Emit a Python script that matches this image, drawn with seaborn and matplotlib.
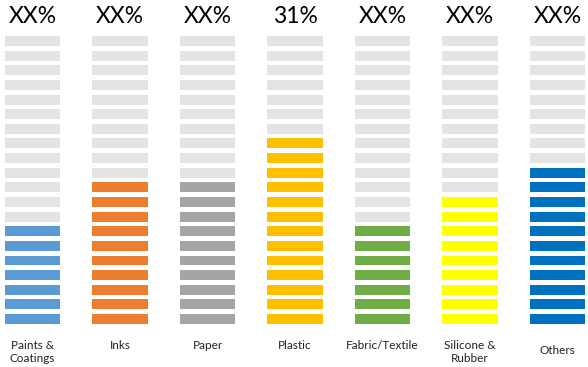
import matplotlib
matplotlib.use('Agg')
import matplotlib.pyplot as plt
import pandas as pd
import seaborn as sns

# data
categories = ['Paints &\nCoatings', 'Inks', 'Paper', 'Plastic', 'Fabric/Textile', 'Silicone &\nRubber', 'Others']
filled = [7, 10, 10, 13, 7, 9, 11]          # coloured stripes out of 20
total = [20, 20, 20, 20, 20, 20, 20]
pct_labels = ['XX%', 'XX%', 'XX%', '31%', 'XX%', 'XX%', 'XX%']
colors = ['#5B9BD5', '#ED7D31', '#A5A5A5', '#FFC000', '#70AD47', '#FFFF00', '#0070C0']

sns.set_theme(style='white')
plt.rcParams['font.family'] = ['Lato', 'DejaVu Sans']

df = pd.DataFrame({'cat': categories, 'filled': filled, 'total': total})

fig = plt.figure(figsize=(5.88, 3.67), dpi=100)
ax = fig.add_axes([0, 43 / 367, 1, 292.6 / 367])

# grey background stripes, then the coloured part
sns.barplot(data=df, x='cat', y='total', color='#E4E4E4', saturation=1, width=0.63, ax=ax)
sns.barplot(data=df, x='cat', y='filled', hue='cat', palette=colors, legend=False,
            saturation=1, width=0.63, ax=ax)
for p in ax.patches:
    p.set_linewidth(0)

# cut the bars into stripes
for k in range(1, 21):
    ax.axhspan(k - 0.32, k, color='white', lw=0, zorder=5)

ax.set_xlim(-32.5 / 87.5, (588 - 32.5) / 87.5)
ax.set_ylim(0, 20)
ax.axis('off')

for i, t in enumerate(pct_labels):
    ax.text(i, 21.0, t, ha='center', va='center', fontsize=16.5, color='black', clip_on=False)

for i, c in enumerate(categories):
    if c == 'Others':
        ax.text(i, -1.8, c, ha='center', va='center', fontsize=8.5, color='#222222', clip_on=False)
    else:
        ax.text(i, -1.1, c, ha='center', va='top', fontsize=8.5, color='#222222',
                linespacing=1.2, clip_on=False)

fig.savefig('out.png', dpi=100)
